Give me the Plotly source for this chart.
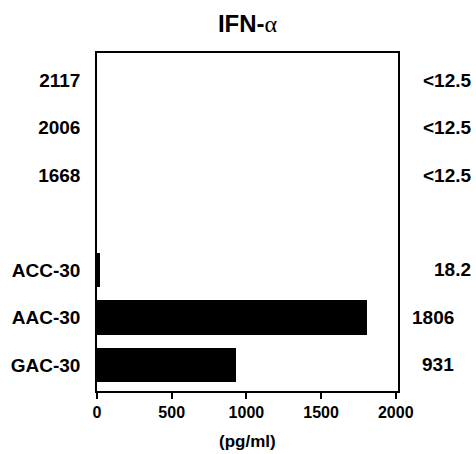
import plotly.graph_objects as go

categories = ["GAC-30", "AAC-30", "ACC-30", "", "1668", "2006", "2117"]
values = [931, 1806, 18.2, None, 0, 0, 0]
right_labels = ["931", "1806", "18.2", "", "<12.5", "<12.5", "<12.5"]
x_ticks = [0, 500, 1000, 1500, 2000]

# horizontal pixel centre of each right-hand label (style only)
right_label_x = [438, 433, 452, None, 447, 447, 447]

W, H = 476, 454
ML, MR, MT, MB = 97, 78, 53, 63

positions = list(range(len(categories)))

fig = go.Figure()
fig.add_trace(go.Bar(
    x=values, y=positions, orientation="h",
    marker=dict(color="black", line=dict(width=0)),
    width=0.72,
))

ann = []
for p, lab, px in zip(positions, right_labels, right_label_x):
    if not lab:
        continue
    ann.append(dict(
        x=(px - ML) / (W - ML - MR), xref="paper", y=p, yref="y",
        text="<b>%s</b>" % lab.replace("<", "&lt;"), showarrow=False,
        xanchor="center", yanchor="middle",
        font=dict(family="Liberation Sans", size=19, color="black"),
    ))
ann.append(dict(
    x=0.5, xref="paper", y=-(441 - (H - MB)) / (H - MT - MB), yref="paper",
    text="<b>(pg/ml)</b>", showarrow=False, yanchor="middle",
    font=dict(family="Liberation Sans", size=17, color="black"),
))

fig.update_layout(
    width=W, height=H,
    margin=dict(l=ML, r=MR, t=MT, b=MB, autoexpand=False),
    paper_bgcolor="white", plot_bgcolor="white",
    showlegend=False,
    title=dict(
        text="<b>IFN-</b><span style='font-family:Liberation Serif;font-weight:normal'>α</span>",
        x=0.5, xanchor="center", xref="paper", y=1 - 24 / H, yanchor="middle",
        font=dict(family="Liberation Sans", size=24, color="black"),
    ),
    annotations=ann,
    bargap=0,
)
fig.update_xaxes(
    range=[0, 2015], tickvals=x_ticks, ticktext=["<b>%d</b>" % t for t in x_ticks],
    showgrid=False, zeroline=False, automargin=False, tickangle=0,
    showline=True, linecolor="black", linewidth=1.5, mirror=True,
    ticks="outside", ticklen=6, tickwidth=1.5, tickcolor="black",
    tickfont=dict(family="Liberation Sans", size=16, color="black"),
)
fig.update_yaxes(
    range=[-0.55, 6.57], tickvals=positions,
    ticktext=["<b>%s</b>" % c for c in categories],
    showgrid=False, zeroline=False, automargin=False,
    showline=True, linecolor="black", linewidth=1.5, mirror=True,
    ticks="", ticklabelstandoff=11,
    tickfont=dict(family="Liberation Sans", size=19, color="black"),
)

fig.write_html(
    "out.html",
    config={"displayModeBar": False},
    post_script="document.body.style.margin='0';document.body.style.overflow='hidden';",
)
